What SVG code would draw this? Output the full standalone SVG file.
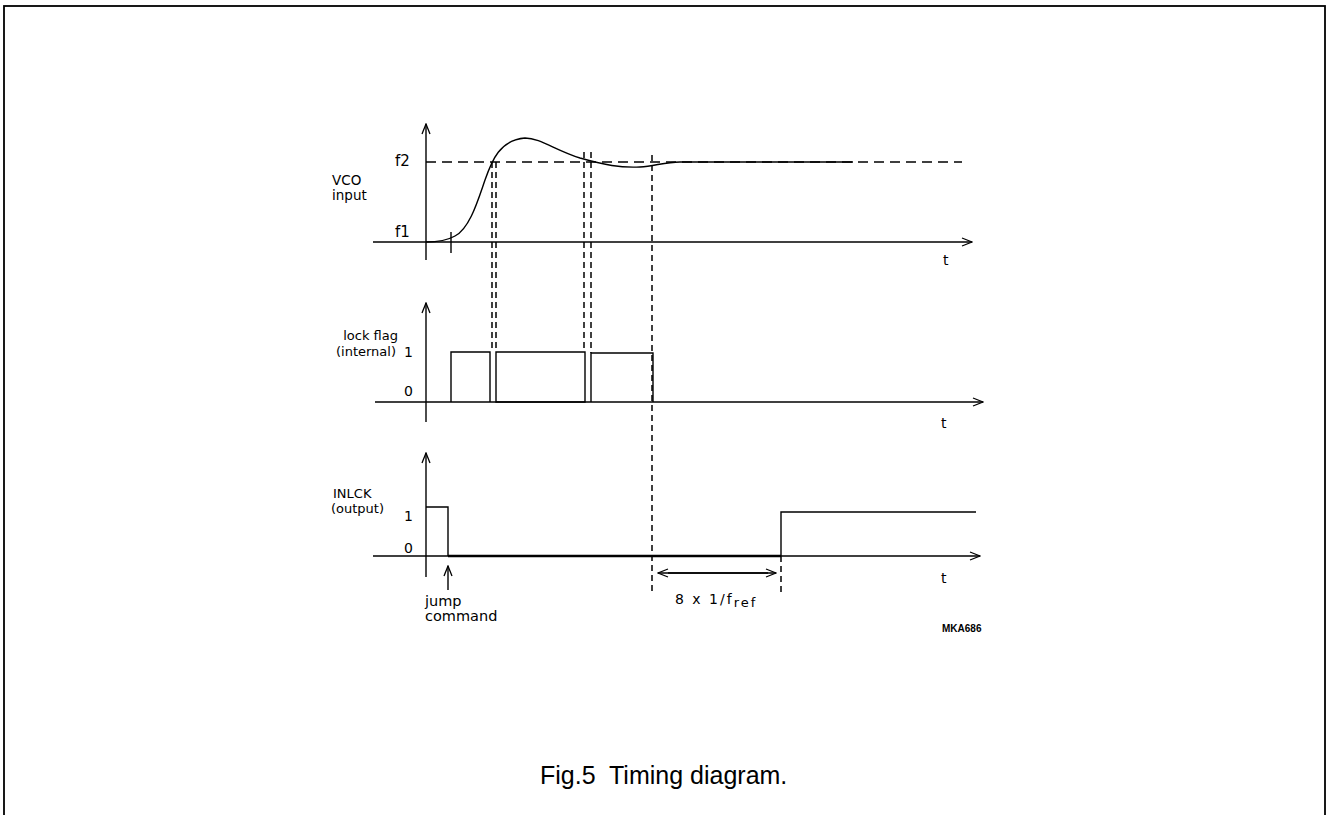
<svg xmlns="http://www.w3.org/2000/svg" width="1328" height="815" viewBox="0 0 1328 815">
<defs>
<style>
.ax{stroke:#000;stroke-width:1.4;fill:none}
.sig{stroke:#000;stroke-width:1.4;fill:none}
.dash{stroke:#000;stroke-width:1.5;fill:none;stroke-dasharray:6 4}
.dashh{stroke:#000;stroke-width:1.5;fill:none;stroke-dasharray:10 6}
.lbl{font-family:"DejaVu Sans","Liberation Sans",sans-serif;font-size:13px;fill:#000}
.num{font-family:"DejaVu Sans","Liberation Sans",sans-serif;font-size:14px;fill:#000}
.cap{font-family:"Liberation Sans",Arial,sans-serif;font-size:25px;fill:#000}
</style>
<marker id="arr" markerWidth="12" markerHeight="10" refX="11" refY="5" orient="auto" markerUnits="userSpaceOnUse">
<path d="M1,1 L11,5 L1,9" fill="none" stroke="#000" stroke-width="1.3"/>
</marker>
</defs>
<rect x="4" y="6" width="1321" height="820" fill="#fff" stroke="#000" stroke-width="1.8"/>

<g id="vco-panel">
<line class="ax" x1="426" y1="260" x2="426" y2="124" marker-end="url(#arr)"/>
<line class="ax" x1="373" y1="242" x2="972" y2="242" marker-end="url(#arr)"/>
<line class="ax" x1="451" y1="232" x2="451" y2="253"/>
<line class="dashh" x1="426" y1="162" x2="962" y2="162"/>
<path class="sig" d="M426,242 C440,242 448,240 455,236 C470,228 478,200 485,180 C492,160 500,140 525,138 C540,138 555,150 580,158 C605,165 620,168 640,167 C655,166 665,162 680,162 L853,162"/>
<text class="lbl" x="332" y="185" style="font-size:13.5px">VCO</text>
<text class="lbl" x="332" y="200" style="font-size:13.5px">input</text>
<text class="num" x="395" y="166" style="font-size:15px">f2</text>
<text class="num" x="395" y="237" style="font-size:15px">f1</text>
<text class="num" x="943" y="265">t</text>
</g>

<g id="lockflag-panel">
<line class="ax" x1="426" y1="422" x2="426" y2="303" marker-end="url(#arr)"/>
<line class="ax" x1="375" y1="402" x2="983" y2="402" marker-end="url(#arr)"/>
<path class="sig" d="M451,402 V352 H490 V402"/>
<path class="sig" d="M496,402 V352 H585 V402 Z"/>
<path class="sig" d="M591,402 V353 H653 V402"/>
<text class="lbl" x="398" y="340" text-anchor="end">lock flag</text>
<text class="lbl" x="396" y="356" text-anchor="end">(internal)</text>
<text class="num" x="404" y="357">1</text>
<text class="num" x="404" y="396">0</text>
<text class="num" x="941" y="428">t</text>
</g>

<g id="inlck-panel">
<line class="ax" x1="426" y1="577" x2="426" y2="453" marker-end="url(#arr)"/>
<line class="ax" x1="373" y1="556" x2="980" y2="556" marker-end="url(#arr)"/>
<path class="sig" d="M426,507 H448 V556"/>
<line x1="448" y1="556" x2="781" y2="556" stroke="#000" stroke-width="2.6"/>
<path class="sig" d="M781,556 V512 H976"/>
<line class="ax" x1="448" y1="590" x2="448" y2="566" marker-end="url(#arr)"/>
<text class="lbl" x="333" y="498">INLCK</text>
<text class="lbl" x="331" y="513">(output)</text>
<text class="num" x="404" y="521">1</text>
<text class="num" x="404" y="553">0</text>
<text class="lbl" x="425" y="606" style="font-size:14.5px">jump</text>
<text class="lbl" x="425" y="621" style="font-size:14.5px">command</text>
<text class="num" x="941" y="583">t</text>
<text class="lbl" x="675" y="604" style="font-size:14px" letter-spacing="2" xml:space="preserve">8 x 1/f<tspan style="font-size:13px" dy="3">ref</tspan></text>
<text x="942" y="632" font-family="'Liberation Sans',Arial,sans-serif" font-size="10" font-weight="bold">MKA686</text>
</g>

<g id="connectors">
<line class="dash" x1="492" y1="162" x2="492" y2="352"/>
<line class="dash" x1="496" y1="162" x2="496" y2="352"/>
<line class="dash" x1="584" y1="152" x2="584" y2="352"/>
<line class="dash" x1="591" y1="152" x2="591" y2="353"/>
<line class="dash" x1="652" y1="155" x2="652" y2="594"/>
<line class="dash" x1="781" y1="556" x2="781" y2="594"/>
<line class="ax" x1="668" y1="573" x2="776" y2="573" marker-end="url(#arr)"/>
<line class="ax" x1="768" y1="573" x2="658" y2="573" marker-end="url(#arr)"/>
</g>

<text class="cap" x="540" y="784" xml:space="preserve">Fig.5  Timing diagram.</text>
</svg>
